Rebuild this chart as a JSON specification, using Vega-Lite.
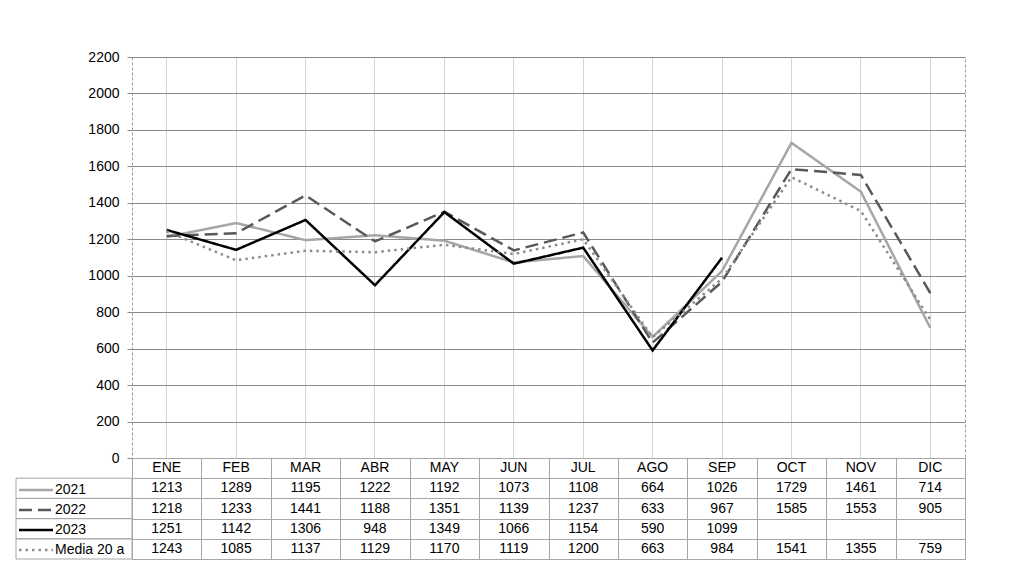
{
  "$schema": "https://vega.github.io/schema/vega-lite/v6.json",
  "padding": {"left": 15, "top": 49, "right": 0, "bottom": 0},
  "background": "white",
  "bounds": "flush",
  "spacing": 0,
  "columns": 2,
  "config": {
    "font": "Liberation Sans",
    "axis": {"labelFont": "Liberation Sans", "labelFontSize": 14, "labelColor": "#000000"},
    "text": {"font": "Liberation Sans", "fontSize": 14, "color": "#000000"}
  },
  "datasets": {
    "series": [
      {"serie": "2021", "mes": "ENE", "valor": 1213},
      {"serie": "2021", "mes": "FEB", "valor": 1289},
      {"serie": "2021", "mes": "MAR", "valor": 1195},
      {"serie": "2021", "mes": "ABR", "valor": 1222},
      {"serie": "2021", "mes": "MAY", "valor": 1192},
      {"serie": "2021", "mes": "JUN", "valor": 1073},
      {"serie": "2021", "mes": "JUL", "valor": 1108},
      {"serie": "2021", "mes": "AGO", "valor": 664},
      {"serie": "2021", "mes": "SEP", "valor": 1026},
      {"serie": "2021", "mes": "OCT", "valor": 1729},
      {"serie": "2021", "mes": "NOV", "valor": 1461},
      {"serie": "2021", "mes": "DIC", "valor": 714},
      {"serie": "2022", "mes": "ENE", "valor": 1218},
      {"serie": "2022", "mes": "FEB", "valor": 1233},
      {"serie": "2022", "mes": "MAR", "valor": 1441},
      {"serie": "2022", "mes": "ABR", "valor": 1188},
      {"serie": "2022", "mes": "MAY", "valor": 1351},
      {"serie": "2022", "mes": "JUN", "valor": 1139},
      {"serie": "2022", "mes": "JUL", "valor": 1237},
      {"serie": "2022", "mes": "AGO", "valor": 633},
      {"serie": "2022", "mes": "SEP", "valor": 967},
      {"serie": "2022", "mes": "OCT", "valor": 1585},
      {"serie": "2022", "mes": "NOV", "valor": 1553},
      {"serie": "2022", "mes": "DIC", "valor": 905},
      {"serie": "2023", "mes": "ENE", "valor": 1251},
      {"serie": "2023", "mes": "FEB", "valor": 1142},
      {"serie": "2023", "mes": "MAR", "valor": 1306},
      {"serie": "2023", "mes": "ABR", "valor": 948},
      {"serie": "2023", "mes": "MAY", "valor": 1349},
      {"serie": "2023", "mes": "JUN", "valor": 1066},
      {"serie": "2023", "mes": "JUL", "valor": 1154},
      {"serie": "2023", "mes": "AGO", "valor": 590},
      {"serie": "2023", "mes": "SEP", "valor": 1099},
      {"serie": "Media 20 a", "mes": "ENE", "valor": 1243},
      {"serie": "Media 20 a", "mes": "FEB", "valor": 1085},
      {"serie": "Media 20 a", "mes": "MAR", "valor": 1137},
      {"serie": "Media 20 a", "mes": "ABR", "valor": 1129},
      {"serie": "Media 20 a", "mes": "MAY", "valor": 1170},
      {"serie": "Media 20 a", "mes": "JUN", "valor": 1119},
      {"serie": "Media 20 a", "mes": "JUL", "valor": 1200},
      {"serie": "Media 20 a", "mes": "AGO", "valor": 663},
      {"serie": "Media 20 a", "mes": "SEP", "valor": 984},
      {"serie": "Media 20 a", "mes": "OCT", "valor": 1541},
      {"serie": "Media 20 a", "mes": "NOV", "valor": 1355},
      {"serie": "Media 20 a", "mes": "DIC", "valor": 759}
    ],
    "meses": [
      {"mes": "ENE"}, {"mes": "FEB"}, {"mes": "MAR"}, {"mes": "ABR"}, {"mes": "MAY"}, {"mes": "JUN"},
      {"mes": "JUL"}, {"mes": "AGO"}, {"mes": "SEP"}, {"mes": "OCT"}, {"mes": "NOV"}, {"mes": "DIC"}
    ],
    "nombres": [
      {"serie": "2021"}, {"serie": "2022"}, {"serie": "2023"}, {"serie": "Media 20 a"}
    ]
  },
  "concat": [
    {
      "width": 116,
      "height": 401,
      "data": {"values": []},
      "mark": "point",
      "view": {"stroke": null}
    },
    {
      "width": 833,
      "height": 401,
      "data": {"name": "series"},
      "view": {"stroke": "#9a9a9a", "strokeDash": [3, 2], "strokeWidth": 1},
      "mark": {"type": "line", "strokeWidth": 2.5},
      "encoding": {
        "x": {
          "field": "mes",
          "type": "nominal",
          "sort": null,
          "scale": {"type": "band", "domain": ["ENE","FEB","MAR","ABR","MAY","JUN","JUL","AGO","SEP","OCT","NOV","DIC"], "paddingInner": 0, "paddingOuter": 0},
          "axis": {"grid": true, "gridColor": "#d4d4d4", "gridWidth": 1, "labels": false, "ticks": false, "domain": false, "title": null}
        },
        "y": {
          "field": "valor",
          "type": "quantitative",
          "scale": {"domain": [0, 2200], "nice": false, "zero": true},
          "axis": {"values": [0,200,400,600,800,1000,1200,1400,1600,1800,2000,2200], "format": "d", "grid": true, "gridColor": "#8a8a8a", "gridWidth": 1, "domain": false, "ticks": true, "tickColor": "#8a8a8a", "tickSize": 5, "labelPadding": 8, "title": null}
        },
        "color": {
          "field": "serie",
          "type": "nominal",
          "scale": {"domain": ["2021","2022","2023","Media 20 a"], "range": ["#a6a6a6","#595959","#000000","#8c8c8c"]},
          "legend": {"orient": "none", "legendX": 7, "legendY": 420, "title": null, "symbolType": "M-1.5,0H1.5", "symbolSize": 514, "symbolStrokeWidth": 2.5, "labelFontSize": 14, "labelFont": "Liberation Sans", "labelColor": "#000000", "rowPadding": 0, "labelOffset": 6, "padding": 0}
        },
        "strokeDash": {
          "field": "serie",
          "type": "nominal",
          "scale": {"domain": ["2021","2022","2023","Media 20 a"], "range": [[1,0],[13,6],[1,0],[2.5,4]]}
        }
      }
    },
    {
      "width": 116,
      "height": 101,
      "data": {"name": "nombres"},
      "view": {"stroke": null},
      "mark": {"type": "rect", "filled": false, "stroke": "#a6a6a6", "strokeWidth": 1},
      "encoding": {
        "y": {
          "field": "serie",
          "type": "nominal",
          "scale": {"type": "band", "domain": ["hdr","2021","2022","2023","Media 20 a"], "paddingInner": 0, "paddingOuter": 0},
          "axis": null
        }
      }
    },
    {
      "width": 833,
      "height": 101,
      "view": {"stroke": "#a6a6a6", "strokeWidth": 1},
      "encoding": {
        "x": {
          "field": "mes",
          "type": "nominal",
          "sort": null,
          "scale": {"type": "band", "domain": ["ENE","FEB","MAR","ABR","MAY","JUN","JUL","AGO","SEP","OCT","NOV","DIC"], "paddingInner": 0, "paddingOuter": 0},
          "axis": {"tickBand": "extent", "grid": true, "gridColor": "#a6a6a6", "labels": false, "ticks": false, "domain": false, "title": null}
        }
      },
      "layer": [
        {
          "data": {"name": "series"},
          "mark": {"type": "text", "fontSize": 14, "baseline": "middle", "align": "center"},
          "encoding": {
            "y": {
              "field": "serie",
              "type": "nominal",
              "scale": {"type": "band", "domain": ["hdr","2021","2022","2023","Media 20 a"], "paddingInner": 0, "paddingOuter": 0},
              "axis": {"tickBand": "extent", "grid": true, "gridColor": "#a6a6a6", "labels": false, "ticks": false, "domain": false, "title": null}
            },
            "text": {"field": "valor", "type": "quantitative", "format": "d"}
          }
        },
        {
          "data": {"name": "meses"},
          "mark": {"type": "text", "fontSize": 14, "baseline": "middle", "align": "center"},
          "encoding": {
            "y": {"datum": "hdr", "type": "nominal"},
            "text": {"field": "mes", "type": "nominal"}
          }
        }
      ]
    }
  ]
}
